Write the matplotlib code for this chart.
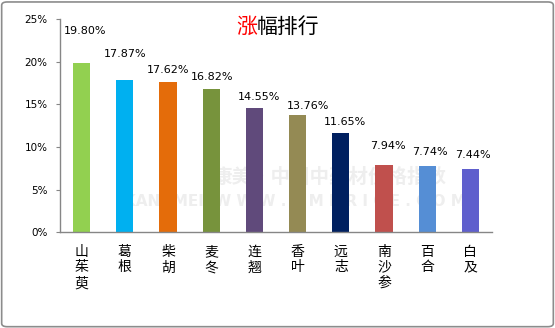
import matplotlib
matplotlib.use("Agg")
import matplotlib.pyplot as plt
from matplotlib.patches import FancyBboxPatch
from matplotlib.ticker import FuncFormatter

plt.rcParams['font.family'] = ['Noto Sans CJK SC', 'DejaVu Sans']

# data
herbs = ["山茱萸", "葛根", "柴胡", "麦冬", "连翘", "香叶", "远志", "南沙参", "百合", "白及"]
gains = [19.80, 17.87, 17.62, 16.82, 14.55, 13.76, 11.65, 7.94, 7.74, 7.44]
bar_colors = ["#92D050", "#00B0F0", "#E46C0A", "#77933C", "#604A7B",
              "#948A54", "#002060", "#C0504D", "#558ED5", "#5F5FCD"]
# label nudges (points) to match the hand-placed labels of the original
lab_dx = [2.5, 0, 0, 0.5, 3, 7.5, 3, 3, 2, 2]
lab_dy = [20, 15, 5, 5, 4.5, 3, 4.5, 9.5, 7, 6.5]

fig = plt.figure(figsize=(5.55, 3.28), dpi=100)
ax = fig.add_axes([60/555, 1-232.3/328, 432/555, 213.3/328])

x = range(len(herbs))
ax.bar(x, gains, width=0.40, color=bar_colors, zorder=2)

for i, v in enumerate(gains):
    ax.annotate(f"{v:.2f}%", (i, v), xytext=(lab_dx[i], lab_dy[i]),
                textcoords="offset points", ha="center", va="bottom",
                fontsize=8, family="DejaVu Sans", zorder=3)

ax.set_xlim(-0.5, len(herbs) - 0.5)
ax.set_ylim(0, 25)
ax.set_yticks([0, 5, 10, 15, 20, 25])
ax.yaxis.set_major_formatter(FuncFormatter(lambda v, p: f"{v:.0f}%"))
ax.set_xticks(list(x))
ax.set_xticklabels(["\n".join(h) for h in herbs], fontsize=10, linespacing=1.15, va="top")

ax.tick_params(axis="x", length=0, pad=9)
ax.tick_params(axis="y", length=3, width=0.8, color="#868686", pad=6, labelsize=7.5)
for lab in ax.get_yticklabels():
    lab.set_family("DejaVu Sans")
for s in ["top", "right"]:
    ax.spines[s].set_visible(False)
for s in ["left", "bottom"]:
    ax.spines[s].set_color("#868686")
    ax.spines[s].set_linewidth(1)

# faint watermark behind the bars
ax.text(330/555, 1-177/328, "康美·中国中药材价格指数", color="#eeeeee", fontsize=14,
        fontweight="bold", ha="center", va="center", zorder=1,
        transform=fig.transFigure, clip_on=False)
ax.text(295/555, 1-202/328, "KANGMEI  W W W . K M P R I C E . C O M", color="#eeeeee",
        fontsize=11, fontweight="bold", ha="center", va="center", zorder=1,
        family="DejaVu Sans", transform=fig.transFigure, clip_on=False)

# title: first character red
fig.text(257/555, 1-27/328, "涨", color="red", fontsize=15, ha="right", va="center")
fig.text(257/555, 1-27/328, "幅排行", color="black", fontsize=15, ha="left", va="center")

# outer rounded frame
frame = FancyBboxPatch((0.003, 0.004), 0.994, 0.99, boxstyle="round,pad=0,rounding_size=0.01",
                       transform=fig.transFigure, fill=False, edgecolor="#8c8c8c", linewidth=1.2)
fig.patches.append(frame)

fig.savefig("out.png", dpi=100)
